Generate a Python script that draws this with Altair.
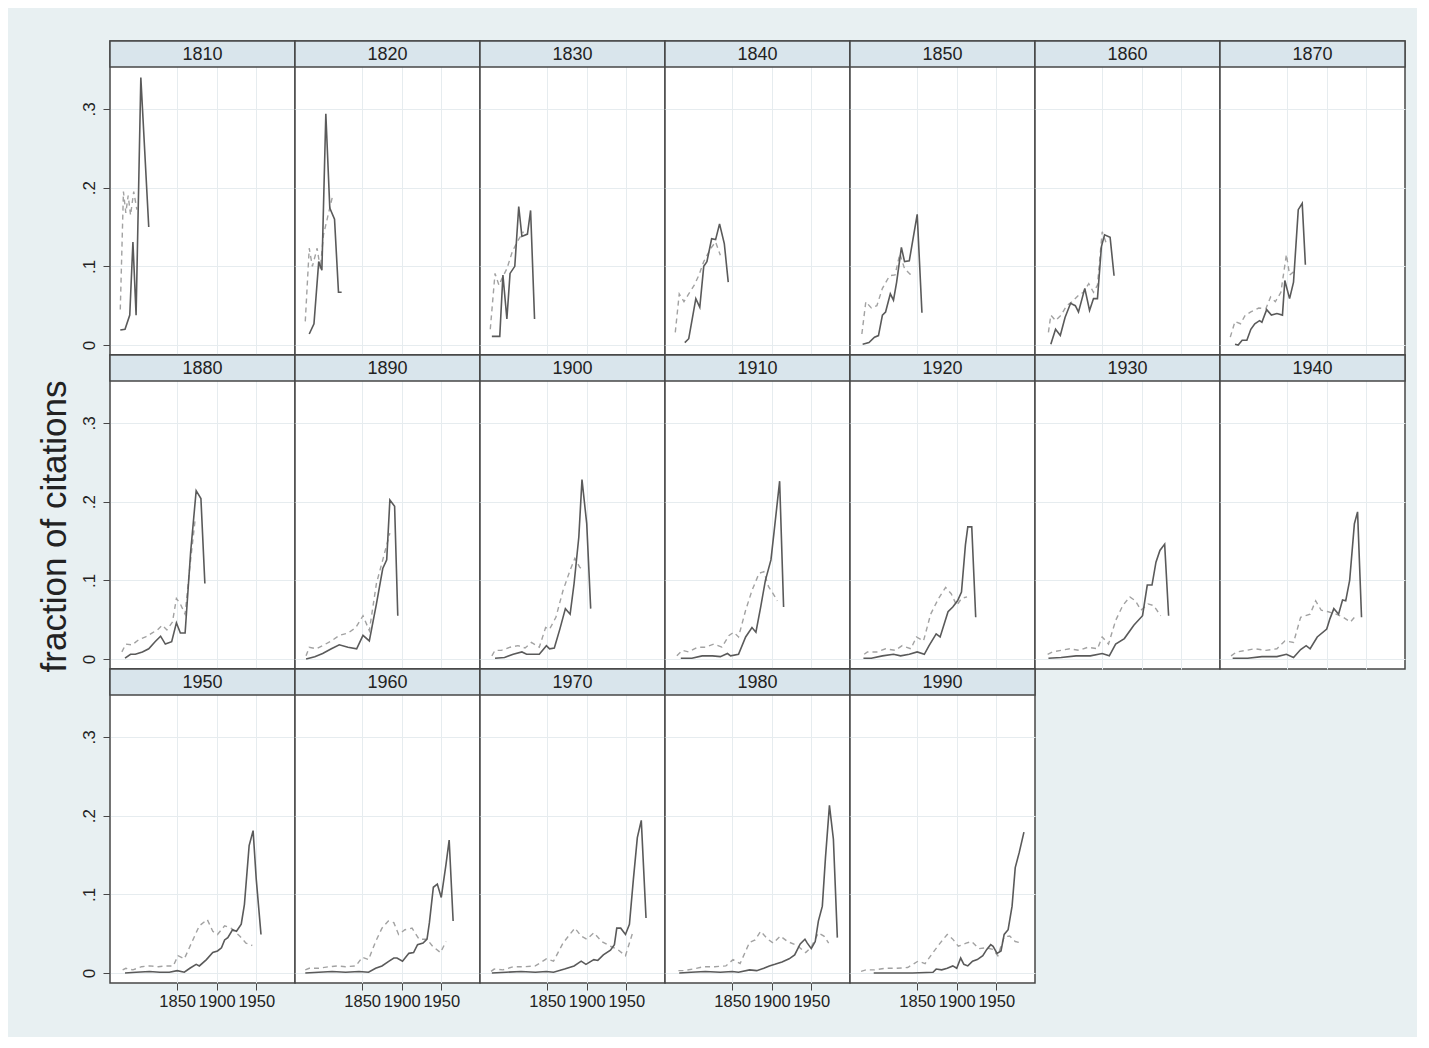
import altair as alt
import pandas as pd

cohorts = [1810, 1820, 1830, 1840, 1850, 1860, 1870,
           1880, 1890, 1900, 1910, 1920, 1930, 1940,
           1950, 1960, 1970, 1980, 1990]

x_ticks = [1850, 1900, 1950]
y_ticks = [0, 0.1, 0.2, 0.3]

# (year, fraction); solid and dashed series per cohort
solid_1810 = [(1778, .019), (1784, .02), (1790, .038), (1794, .131), (1798, .038), (1804, .34), (1814, .15)]
dashed_1810 = [(1778, .045), (1782, .195), (1785, .168), (1788, .19), (1791, .165), (1795, .195), (1799, .172)]

solid_1820 = [(1783, .014), (1789, .027), (1795, .106), (1799, .095), (1804, .294), (1809, .174), (1815, .16), (1820, .067), (1824, .067)]
dashed_1820 = [(1778, .03), (1783, .123), (1787, .1), (1793, .123), (1797, .097), (1801, .14), (1808, .17), (1812, .187)]

solid_1830 = [(1780, .011), (1790, .011), (1794, .089), (1799, .033), (1803, .091), (1809, .1), (1814, .176), (1818, .138), (1825, .141), (1829, .171), (1834, .033)]
dashed_1830 = [(1778, .02), (1784, .091), (1789, .076), (1793, .085), (1799, .097), (1806, .119), (1812, .131), (1820, .144)]

solid_1840 = [(1790, .003), (1795, .008), (1804, .059), (1809, .048), (1814, .1), (1818, .106), (1824, .135), (1829, .134), (1834, .154), (1840, .129), (1845, .08)]
dashed_1840 = [(1778, .016), (1783, .065), (1789, .055), (1795, .065), (1802, .076), (1808, .089), (1814, .106), (1823, .123), (1829, .131), (1835, .114)]

solid_1850 = [(1781, .001), (1789, .003), (1796, .01), (1801, .012), (1806, .038), (1810, .042), (1816, .065), (1820, .057), (1824, .08), (1830, .124), (1834, .106), (1840, .107), (1850, .166), (1856, .041)]
dashed_1850 = [(1780, .014), (1785, .055), (1792, .047), (1799, .05), (1806, .072), (1815, .088), (1822, .089), (1828, .116), (1834, .097), (1841, .09), (1845, .091)]

solid_1860 = [(1785, .001), (1791, .02), (1797, .012), (1803, .035), (1810, .053), (1816, .05), (1820, .042), (1828, .072), (1834, .044), (1839, .059), (1844, .059), (1849, .125), (1853, .14), (1860, .137), (1865, .088)]
dashed_1860 = [(1782, .016), (1785, .038), (1791, .031), (1798, .038), (1805, .05), (1812, .055), (1820, .063), (1826, .067), (1833, .078), (1839, .067), (1844, .076), (1850, .144), (1856, .127)]

solid_1870 = [(1784, .001), (1788, 0), (1793, .006), (1799, .006), (1804, .02), (1809, .027), (1815, .031), (1818, .029), (1824, .045), (1830, .038), (1837, .04), (1844, .038), (1847, .082), (1853, .059), (1858, .08), (1864, .172), (1869, .18), (1873, .102)]
dashed_1870 = [(1778, .01), (1784, .03), (1791, .027), (1797, .038), (1804, .042), (1814, .047), (1823, .046), (1829, .061), (1835, .055), (1842, .067), (1849, .115), (1853, .089), (1858, .093)]

solid_1880 = [(1784, .001), (1791, .006), (1797, .006), (1806, .009), (1814, .013), (1822, .022), (1829, .029), (1835, .019), (1843, .022), (1849, .046), (1854, .033), (1860, .033), (1867, .136), (1874, .214), (1880, .204), (1885, .096)]
dashed_1880 = [(1780, .009), (1785, .019), (1793, .018), (1802, .025), (1810, .028), (1818, .033), (1825, .037), (1831, .043), (1837, .037), (1844, .047), (1849, .077), (1854, .07), (1860, .057), (1866, .117), (1873, .18)]

solid_1890 = [(1779, 0), (1790, .003), (1800, .007), (1811, .013), (1821, .018), (1832, .015), (1843, .013), (1851, .03), (1859, .023), (1868, .07), (1876, .115), (1881, .126), (1885, .202), (1891, .194), (1895, .055)]
dashed_1890 = [(1779, .004), (1783, .015), (1792, .013), (1800, .017), (1811, .023), (1821, .03), (1832, .033), (1842, .04), (1851, .055), (1859, .036), (1868, .096), (1876, .126), (1885, .16)]

solid_1900 = [(1784, .001), (1796, .002), (1807, .006), (1818, .009), (1824, .006), (1832, .006), (1840, .006), (1849, .017), (1853, .013), (1859, .014), (1866, .038), (1873, .064), (1879, .057), (1884, .096), (1890, .155), (1894, .228), (1900, .172), (1905, .064)]
dashed_1900 = [(1780, .004), (1784, .011), (1792, .011), (1803, .015), (1813, .017), (1822, .014), (1830, .021), (1840, .015), (1848, .04), (1853, .038), (1861, .053), (1870, .087), (1879, .113), (1885, .128), (1891, .117), (1895, .113)]

solid_1910 = [(1785, .001), (1799, .001), (1812, .004), (1825, .004), (1835, .003), (1844, .007), (1848, .004), (1858, .006), (1867, .028), (1875, .04), (1880, .034), (1886, .066), (1892, .1), (1899, .126), (1903, .162), (1910, .226), (1915, .066)]
dashed_1910 = [(1780, .004), (1787, .011), (1795, .009), (1806, .015), (1816, .015), (1827, .019), (1837, .015), (1846, .03), (1852, .034), (1858, .028), (1867, .062), (1875, .087), (1884, .109), (1890, .111), (1896, .092), (1903, .081), (1907, .074)]

solid_1920 = [(1782, .001), (1792, .001), (1806, .004), (1820, .006), (1829, .004), (1840, .006), (1850, .009), (1859, .006), (1865, .017), (1874, .032), (1879, .028), (1889, .06), (1895, .066), (1901, .074), (1906, .085), (1911, .145), (1914, .168), (1919, .168), (1924, .053)]
dashed_1920 = [(1783, .006), (1787, .009), (1799, .009), (1810, .013), (1822, .011), (1831, .017), (1842, .013), (1849, .028), (1858, .023), (1867, .057), (1877, .077), (1886, .091), (1893, .083), (1900, .068), (1906, .077), (1913, .079)]

solid_1930 = [(1782, .001), (1798, .002), (1817, .004), (1835, .004), (1850, .007), (1859, .004), (1867, .019), (1878, .026), (1890, .043), (1901, .055), (1907, .094), (1913, .094), (1918, .123), (1923, .138), (1929, .146), (1934, .055)]
dashed_1930 = [(1781, .006), (1787, .009), (1798, .011), (1809, .013), (1821, .011), (1832, .015), (1844, .013), (1850, .028), (1858, .019), (1867, .049), (1876, .068), (1885, .079), (1892, .074), (1899, .062), (1908, .07), (1915, .068), (1924, .055)]

solid_1940 = [(1781, .001), (1800, .001), (1818, .003), (1837, .003), (1849, .006), (1858, .002), (1867, .012), (1874, .017), (1879, .013), (1888, .028), (1900, .038), (1904, .051), (1909, .064), (1915, .057), (1920, .075), (1924, .074), (1929, .1), (1935, .172), (1939, .187), (1944, .053)]
dashed_1940 = [(1779, .004), (1786, .009), (1798, .011), (1809, .013), (1823, .011), (1837, .013), (1847, .023), (1858, .021), (1867, .053), (1879, .057), (1886, .074), (1893, .062), (1902, .06), (1912, .057), (1921, .053), (1930, .047), (1935, .053)]

solid_1950 = [(1784, 0), (1798, .001), (1815, .002), (1828, .001), (1840, .001), (1850, .003), (1859, .001), (1866, .006), (1874, .011), (1878, .009), (1887, .017), (1895, .026), (1901, .028), (1906, .032), (1910, .042), (1914, .045), (1920, .055), (1925, .053), (1931, .062), (1935, .087), (1941, .162), (1946, .181), (1950, .119), (1956, .049)]
dashed_1950 = [(1781, .004), (1785, .006), (1794, .004), (1805, .008), (1815, .009), (1826, .008), (1836, .009), (1845, .009), (1851, .022), (1859, .018), (1868, .038), (1878, .06), (1888, .068), (1895, .053), (1901, .049), (1910, .06), (1918, .057), (1929, .047), (1937, .038), (1945, .035)]

solid_1960 = [(1778, 0), (1795, .001), (1812, .002), (1829, .001), (1846, .002), (1858, .001), (1867, .006), (1875, .009), (1884, .015), (1890, .019), (1894, .019), (1901, .015), (1909, .025), (1915, .026), (1920, .036), (1927, .038), (1932, .043), (1935, .064), (1940, .109), (1945, .113), (1950, .096), (1956, .138), (1960, .169), (1965, .066)]
dashed_1960 = [(1778, .004), (1783, .006), (1795, .006), (1808, .008), (1818, .009), (1829, .008), (1842, .009), (1850, .02), (1858, .017), (1867, .04), (1875, .057), (1883, .066), (1890, .064), (1896, .049), (1904, .055), (1913, .057), (1922, .043), (1932, .043), (1939, .034), (1949, .026), (1956, .04)]

solid_1970 = [(1780, 0), (1798, .001), (1817, .002), (1835, .001), (1849, .002), (1858, .001), (1872, .005), (1884, .009), (1893, .015), (1899, .011), (1909, .017), (1914, .016), (1921, .023), (1930, .029), (1935, .036), (1938, .057), (1943, .057), (1949, .049), (1954, .062), (1959, .119), (1964, .172), (1969, .194), (1975, .07)]
dashed_1970 = [(1779, .002), (1783, .005), (1794, .004), (1807, .008), (1821, .008), (1835, .009), (1849, .018), (1858, .015), (1870, .038), (1877, .047), (1885, .057), (1893, .047), (1900, .043), (1909, .051), (1919, .04), (1930, .034), (1939, .03), (1949, .022), (1958, .051)]

solid_1980 = [(1783, 0), (1798, .001), (1816, .002), (1835, .001), (1850, .002), (1858, .001), (1872, .004), (1881, .003), (1890, .006), (1897, .009), (1904, .011), (1913, .014), (1922, .018), (1929, .023), (1936, .037), (1942, .043), (1945, .038), (1950, .031), (1955, .04), (1959, .066), (1964, .085), (1968, .147), (1973, .213), (1978, .17), (1983, .045)]
dashed_1980 = [(1782, .003), (1789, .003), (1800, .005), (1814, .008), (1828, .008), (1842, .009), (1851, .017), (1860, .012), (1872, .039), (1879, .042), (1886, .053), (1895, .043), (1902, .038), (1911, .047), (1920, .04), (1932, .035), (1943, .026), (1950, .033), (1959, .051), (1966, .047), (1972, .038)]

solid_1990 = [(1795, 0), (1821, 0), (1844, 0), (1870, .001), (1874, .005), (1881, .004), (1888, .006), (1895, .009), (1900, .006), (1905, .019), (1909, .011), (1914, .009), (1920, .015), (1926, .017), (1933, .022), (1938, .03), (1943, .036), (1946, .034), (1951, .025), (1956, .028), (1960, .049), (1965, .055), (1970, .085), (1974, .134), (1979, .153), (1985, .179)]
dashed_1990 = [(1779, .002), (1785, .004), (1796, .004), (1810, .006), (1824, .006), (1838, .007), (1851, .015), (1860, .012), (1870, .026), (1879, .038), (1888, .049), (1895, .043), (1902, .034), (1912, .038), (1919, .04), (1928, .031), (1937, .032), (1946, .03), (1952, .022), (1960, .046), (1967, .047), (1974, .04), (1983, .038)]

solid_series = [solid_1810, solid_1820, solid_1830, solid_1840, solid_1850, solid_1860, solid_1870,
                solid_1880, solid_1890, solid_1900, solid_1910, solid_1920, solid_1930, solid_1940,
                solid_1950, solid_1960, solid_1970, solid_1980, solid_1990]
dashed_series = [dashed_1810, dashed_1820, dashed_1830, dashed_1840, dashed_1850, dashed_1860, dashed_1870,
                 dashed_1880, dashed_1890, dashed_1900, dashed_1910, dashed_1920, dashed_1930, dashed_1940,
                 dashed_1950, dashed_1960, dashed_1970, dashed_1980, dashed_1990]

rows = []
for c, s, d in zip(cohorts, solid_series, dashed_series):
    for yr, v in s:
        rows.append({"cohort": c, "series": "solid", "year": yr, "value": v})
    for yr, v in d:
        rows.append({"cohort": c, "series": "dashed", "year": yr, "value": v})
df = pd.DataFrame(rows)

FONT = "Liberation Sans"
BG = "#e8f0f2"
HEAD_FILL = "#d9e5ec"
BORDER = "#474747"
GRID = "#e6ecef"
W, H, HEAD = 185, 314, 26
XDOM = [1765, 1999]
YDOM = [-0.0127, 0.3864]

label_expr = "datum.value == 0 ? '0' : replace(format(datum.value, '.1f'), '0.', '.')"

panels = []
for i, c in enumerate(cohorts):
    col, row = i % 7, i // 7
    left = col == 0
    bottom = row == 2

    xaxis = alt.Axis(values=x_ticks, format="d", grid=True, gridColor=GRID, gridWidth=1,
                     domain=False, labels=bottom, ticks=bottom, tickSize=7, tickColor=BORDER,
                     tickWidth=1, labelFontSize=16.5, labelFont=FONT, labelColor="#222",
                     labelPadding=3, labelOverlap=False, labelFlush=False, title=None)
    yargs = dict(values=y_ticks, grid=True, gridColor=GRID, gridWidth=1, domain=False,
                 labels=left, ticks=left, tickSize=7, tickColor=BORDER, tickWidth=1,
                 labelExpr=label_expr, labelAngle=270, labelAlign="center",
                 labelBaseline="bottom", labelFontSize=17, labelFont=FONT,
                 labelColor="#222", labelPadding=5, labelFlush=False)
    if c == 1880:
        yaxis = alt.Axis(title="fraction of citations", titleFontSize=35, titleFont=FONT,
                         titleFontWeight="normal", titleColor="#222", titlePadding=8,
                         titleY=171, **yargs)
    else:
        yaxis = alt.Axis(title=None, **yargs)

    xenc = alt.X("year:Q", scale=alt.Scale(domain=XDOM, nice=False, zero=False), axis=xaxis)
    yenc = alt.Y("value:Q", scale=alt.Scale(domain=YDOM, nice=False, zero=False), axis=yaxis)

    base = alt.Chart(df).transform_filter(alt.datum.cohort == c)
    dashed_line = base.transform_filter(alt.datum.series == "dashed").mark_line(
        color="#a2a2a2", strokeWidth=1.4, strokeDash=[5, 4]
    ).encode(x=xenc, y=yenc, order="year:Q")
    solid_line = base.transform_filter(alt.datum.series == "solid").mark_line(
        color="#5a5a5a", strokeWidth=1.6
    ).encode(x=xenc, y=yenc, order="year:Q")

    head_df = pd.DataFrame({"label": [str(c)]})
    head_rect = alt.Chart(head_df).mark_rect(
        fill=HEAD_FILL, stroke=BORDER, strokeWidth=1.5
    ).encode(x=alt.value(0), x2=alt.value(W), y=alt.value(0), y2=alt.value(HEAD))
    head_text = alt.Chart(head_df).mark_text(
        font=FONT, fontSize=18, color="#222", baseline="middle", align="center"
    ).encode(text="label:N", x=alt.value(W / 2), y=alt.value(HEAD / 2 + 1))

    panels.append(alt.layer(dashed_line, solid_line, head_rect, head_text).properties(width=W, height=H))

chart = alt.concat(*panels, columns=7, spacing=0, bounds="flush").properties(
    background=BG,
    padding={"left": 28, "top": 31, "right": 10, "bottom": 26},
).configure_view(stroke=BORDER, strokeWidth=1.5, fill="white")

chart.save("out.html", embed_options={"renderer": "svg", "actions": False})
